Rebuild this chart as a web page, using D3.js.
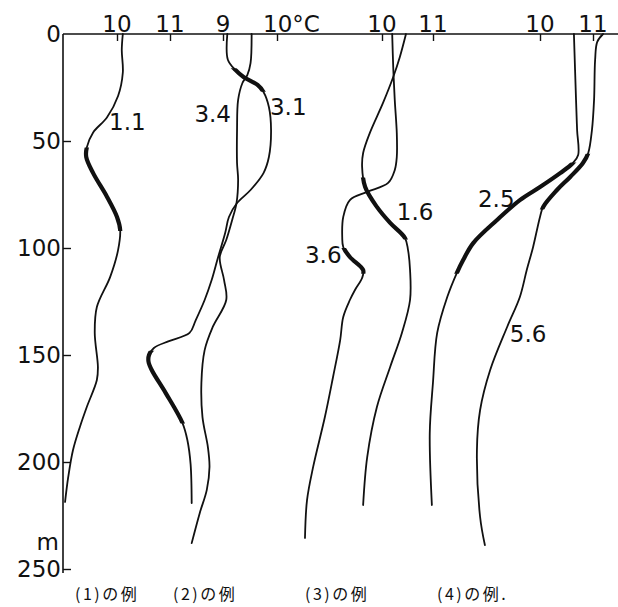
<!DOCTYPE html>
<html><head><meta charset="utf-8">
<script src="https://cdn.jsdelivr.net/npm/d3@7"></script>
<style>
html,body{margin:0;padding:0;background:#fff;}
svg{display:block;}
</style></head>
<body>
<svg id="chart" width="618" height="607"></svg>
<script>
// ---- data (depth in m, temperature in °C) ----
const depthTicks = [0, 50, 100, 150, 200, 250];
const panelTicks = [[10, 11], [9, 10], [10, 11], [10, 11]];
const panelNames = ["(1)の例", "(2)の例", "(3)の例", "(4)の例."];

// panel 1
const curve1a = [[0,10.11],[7.5,10.09],[18,10.11],[29,10.02],[39,9.81],[46,9.55],[53,9.43],[57.5,9.42],[65,9.55],[76,9.81],[85.5,10.0],[91.6,10.06],[101,10.02],[113.6,9.87],[127.6,9.62],[139.7,9.58],[155.6,9.64],[161.7,9.62],[174.3,9.43],[183.6,9.30],[194.4,9.17],[207,9.08],[218.7,9.02]];
// panel 2
const curve2a = [[0,9.08],[12,9.09],[16.8,9.23],[20.1,9.38],[23.8,9.64],[27.1,9.75],[34.1,9.85],[44.9,9.89],[57.5,9.85],[65,9.75],[72.9,9.51],[79,9.26],[85.5,9.11],[93,9.04],[104.2,8.91],[115,8.79],[124.3,8.66],[134,8.49],[139.7,8.38],[143.5,8.0],[146.7,7.72],[150,7.63],[153,7.62],[157,7.68],[167.8,7.94],[181.8,8.25],[189.7,8.34],[201,8.40],[219.2,8.42]];
const curve2b = [[0,9.53],[13.6,9.51],[19.2,9.45],[22.9,9.36],[30.8,9.28],[44.9,9.26],[60.3,9.26],[68.2,9.28],[79,9.25],[86.9,9.17],[96.3,9.06],[104.2,8.94],[115,9.02],[124.3,9.06],[136.9,8.81],[147.7,8.66],[163,8.60],[179,8.62],[193,8.72],[202.3,8.75],[213,8.70],[223.8,8.57],[237.9,8.42]];
// panel 3
const curve3a = [[0,10.47],[10.7,10.35],[20.1,10.22],[32.2,10.02],[46.3,9.76],[55.6,9.63],[62.1,9.61],[71.5,9.67],[80.8,9.90],[88.3,10.16],[95.3,10.45],[100.9,10.51],[110.3,10.55],[124.3,10.55],[139.7,10.39],[155.6,10.16],[174.3,9.90],[197.7,9.71],[220.1,9.63]];
const curve3b = [[0,10.20],[15.4,10.22],[30.8,10.25],[46.3,10.29],[57.5,10.29],[63.6,10.25],[69.6,10.12],[73.8,9.71],[77.6,9.37],[85.5,9.24],[94.9,9.22],[99.5,9.24],[104.2,9.37],[110.3,9.63],[114,9.61],[119.6,9.47],[124.3,9.37],[132.2,9.24],[143,9.18],[160.3,9.04],[179,8.88],[202.3,8.65],[217.8,8.53],[235.5,8.49]];
// panel 4
const curve4a = [[0,10.64],[30.8,10.68],[44.9,10.70],[56.5,10.72],[60.3,10.62],[65,10.38],[71.5,10.0],[77.6,9.62],[86.9,9.19],[97.7,8.74],[105.6,8.55],[111.7,8.43],[122.9,8.25],[139.7,8.06],[163.1,7.98],[186.4,7.92],[220.1,7.96]];
const curve4b = [[0,11.19],[3.7,11.08],[12.1,11.04],[30.8,11.02],[44.9,10.98],[55.6,10.91],[60.3,10.81],[66.8,10.57],[72.9,10.32],[80.8,10.06],[85.5,10.0],[99.5,9.87],[110.3,9.75],[122.9,9.62],[136.9,9.38],[157,9.06],[175.7,8.87],[194.4,8.81],[225.7,8.87],[238.8,8.96]];

// thickened (stable-layer) depth ranges per curve
const thick1a = [[53, 92]];
const thick2a = [[16, 27], [148, 182]];
const thick2b = [];
const thick3a = [[67, 96]];
const thick3b = [[100, 112]];
const thick4a = [[60, 112]];
const thick4b = [[56, 82]];

// curve labels: [text, depth, temp]
const labels1 = [["1.1", 45, 9.85]];
const labels2 = [["3.4", 41, 8.47], ["3.1", 38, 9.87]];
const labels3 = [["1.6", 87, 10.29], ["3.6", 107, 8.49]];
const labels4 = [["2.5", 81, 8.83], ["5.6", 144, 9.43]];

// ---- layout ----
const svg = d3.select("#chart");
const topY = 34, leftX = 63;
const y = d3.scaleLinear().domain([0, 250]).range([topY, 569]);
const panelRanges = [[117, 170], [223, 277], [382, 433], [540, 593]];
const xs = panelTicks.map((t, i) => d3.scaleLinear().domain(t).range(panelRanges[i]));

const panels = [
  {x: xs[0], curves: [[curve1a, thick1a]], labels: labels1},
  {x: xs[1], curves: [[curve2a, thick2a], [curve2b, thick2b]], labels: labels2},
  {x: xs[2], curves: [[curve3a, thick3a], [curve3b, thick3b]], labels: labels3},
  {x: xs[3], curves: [[curve4a, thick4a], [curve4b, thick4b]], labels: labels4}
];

const font = "'DejaVu Sans', 'Liberation Sans', sans-serif";

// axes
svg.append("line").attr("x1", leftX).attr("x2", 618).attr("y1", topY).attr("y2", topY)
  .attr("stroke", "#111").attr("stroke-width", 1.6);
svg.append("line").attr("x1", leftX).attr("x2", leftX).attr("y1", topY).attr("y2", 573)
  .attr("stroke", "#111").attr("stroke-width", 1.6);

const yAxis = d3.axisRight(y).tickValues(depthTicks.slice(1)).tickSize(8).tickFormat("");
svg.append("g").attr("transform", `translate(${leftX},0)`).call(yAxis)
  .call(g => g.select(".domain").remove())
  .call(g => g.selectAll("line").attr("stroke", "#111").attr("stroke-width", 1.4));

svg.selectAll("text.ylab").data(depthTicks).enter().append("text")
  .attr("class", "ylab")
  .attr("x", leftX - 2).attr("y", d => y(d) + 8)
  .attr("text-anchor", "end")
  .attr("font-family", font).attr("font-size", 23).attr("fill", "#111")
  .text(d => d);
svg.append("text").attr("x", leftX - 4).attr("y", 550)
  .attr("text-anchor", "end").attr("font-family", font).attr("font-size", 23).attr("fill", "#111")
  .text("m");

// panels
const line = d3.line().curve(d3.curveCatmullRom.alpha(0.5));
const defs = svg.append("defs");
let clipId = 0;

panels.forEach((p, i) => {
  const xAxis = d3.axisBottom(p.x).tickValues(panelTicks[i]).tickSize(7).tickFormat("");
  svg.append("g").attr("transform", `translate(0,${topY})`).call(xAxis)
    .call(g => g.select(".domain").remove())
    .call(g => g.selectAll("line").attr("stroke", "#111").attr("stroke-width", 1.4));

  panelTicks[i].forEach((t, j) => {
    const isC = (i === 1 && j === 1);
    svg.append("text")
      .attr("x", isC ? p.x(t) - 14 : p.x(t))
      .attr("y", 32)
      .attr("text-anchor", isC ? "start" : "middle")
      .attr("font-family", font).attr("font-size", 23).attr("fill", "#111")
      .text(isC ? t + "°C" : t);
  });

  p.curves.forEach(([data, thick]) => {
    const pts = data.map(d => [p.x(d[1]), y(d[0])]);
    const dstr = line(pts);
    svg.append("path").attr("d", dstr).attr("fill", "none")
      .attr("stroke", "#111").attr("stroke-width", 1.8).attr("stroke-linecap", "round");
    thick.forEach(([d0, d1]) => {
      const id = "clip" + (clipId++);
      defs.append("clipPath").attr("id", id).append("rect")
        .attr("x", 0).attr("width", 618)
        .attr("y", y(d0)).attr("height", y(d1) - y(d0));
      svg.append("path").attr("d", dstr).attr("fill", "none")
        .attr("stroke", "#111").attr("stroke-width", 4.2)
        .attr("clip-path", `url(#${id})`);
    });
  });

  p.labels.forEach(([txt, d, t]) => {
    svg.append("text").attr("x", p.x(t)).attr("y", y(d))
      .attr("font-family", font).attr("font-size", 23).attr("fill", "#111")
      .text(txt);
  });
});

// panel captions
const captionX = [75, 173, 305, 437];
panelNames.forEach((n, i) => {
  svg.append("text").attr("x", captionX[i]).attr("y", 600)
    .attr("font-family", "'Noto Sans CJK JP', sans-serif").attr("font-size", 16)
    .attr("letter-spacing", 2.5)
    .attr("fill", "#111").text(n);
});
</script>
</body></html>
